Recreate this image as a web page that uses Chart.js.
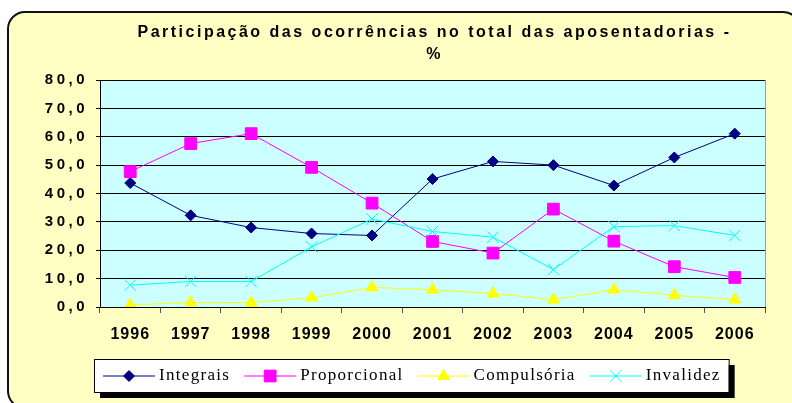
<!DOCTYPE html>
<html>
<head>
<meta charset="utf-8">
<script src="https://cdn.jsdelivr.net/npm/chart.js"></script>
<style>
  body { margin: 0; background: #fff; }
  #wrap { position: relative; width: 792px; height: 403px; overflow: hidden; }
  #panel {
    position: absolute; left: 7px; top: 11px; width: 790px; height: 394px;
    background: #FFFFC4; border: 2px solid #111; border-radius: 18px;
  }
  #chart { position: absolute; left: 0; top: 0; }
</style>
</head>
<body>
<div id="wrap">
  <div id="panel"></div>
  <canvas id="chart" width="792" height="403"></canvas>
</div>
<script>
// Data
const years = ['1996', '1997', '1998', '1999', '2000', '2001', '2002', '2003', '2004', '2005', '2006'];
const integrais = [43.7, 32.3, 28.0, 25.9, 25.2, 45.1, 51.3, 50.0, 42.8, 52.7, 61.1];
const proporcional = [47.7, 57.6, 61.1, 49.2, 36.6, 23.1, 19.0, 34.5, 23.2, 14.2, 10.4];
const compulsoria = [0.7, 1.6, 1.5, 3.3, 6.9, 6.1, 4.7, 2.6, 6.1, 4.1, 2.6];
const invalidez = [7.7, 9.0, 9.0, 21.2, 31.0, 26.6, 24.6, 13.2, 28.3, 28.7, 25.2];
const titleLines = ['Participação das ocorrências no total das aposentadorias -', '%'];

// Scales whose tick labels get letter spacing (the Excel look)
function spaced(Base, id) {
    class S extends Base {
        drawLabels(area) {
            const ctx = this.ctx;
            ctx.save();
            ctx.letterSpacing = this.options.ticks.spacing || '0px';
            super.drawLabels(area);
            ctx.restore();
        }
    }
    S.id = id;
    S.defaults = Base.defaults;
    return S;
}
Chart.register(spaced(Chart.LinearScale, 'spacedLinear'), spaced(Chart.CategoryScale, 'spacedCategory'));

// Plot background, title and the boxed legend
const decor = {
    id: 'decor',
    beforeDraw(chart) {
        const ctx = chart.ctx;
        const a = chart.chartArea;
        ctx.save();
        ctx.fillStyle = '#CCFFFF';
        ctx.fillRect(a.left, a.top, a.right - a.left, a.bottom - a.top);
        ctx.restore();
    },
    beforeDatasetsDraw(chart) {
        const ctx = chart.ctx;
        const a = chart.chartArea;
        ctx.save();
        ctx.strokeStyle = '#9a9a9a';
        ctx.lineWidth = 1;
        ctx.beginPath();
        ctx.moveTo(a.right + 0.5, a.top);
        ctx.lineTo(a.right + 0.5, a.bottom);
        ctx.stroke();
        ctx.restore();
    },
    afterDraw(chart) {
        const ctx = chart.ctx;
        const a = chart.chartArea;
        ctx.save();

        // title
        ctx.fillStyle = '#000';
        ctx.font = 'bold 16px "Liberation Sans", Arial, sans-serif';
        ctx.letterSpacing = '2.5px';
        ctx.textAlign = 'center';
        ctx.textBaseline = 'middle';
        const cx = (a.left + a.right) / 2 + 2;
        ctx.fillText(titleLines[0], cx, 33);
        ctx.fillText(titleLines[1], cx, 55);

        // legend
        ctx.font = '17px "Liberation Serif", "Times New Roman", serif';
        ctx.letterSpacing = '1.3px';
        ctx.textAlign = 'left';
        const boxX = 94, boxY = 359, boxH = 33;
        const lineLen = 52;
        const gap = 14;
        let x = boxX + 9;
        const items = chart.data.datasets.map(function(ds) {
            const w = ctx.measureText(ds.label).width;
            const it = { ds: ds, x: x, w: w };
            x += lineLen + 4 + w + gap;
            return it;
        });
        const boxW = x - gap + 8 - boxX;

        ctx.fillStyle = '#000';
        ctx.fillRect(boxX + 6, boxY + 6, boxW, boxH);
        ctx.fillStyle = '#fff';
        ctx.fillRect(boxX, boxY, boxW, boxH);
        ctx.strokeStyle = '#000';
        ctx.lineWidth = 1;
        ctx.strokeRect(boxX + 0.5, boxY + 0.5, boxW, boxH);

        const my = boxY + boxH / 2 + 0.5;
        items.forEach(function(it) {
            const ds = it.ds;
            ctx.strokeStyle = ds.borderColor;
            ctx.lineWidth = 1;
            ctx.beginPath();
            ctx.moveTo(it.x, my);
            ctx.lineTo(it.x + lineLen, my);
            ctx.stroke();
            ctx.fillStyle = ds.backgroundColor;
            Chart.helpers.drawPoint(ctx, {
                pointStyle: ds.pointStyle,
                radius: ds.pointRadius,
                rotation: 0,
                borderWidth: 1
            }, it.x + lineLen / 2, my);
            ctx.fillStyle = '#000';
            ctx.textBaseline = 'middle';
            ctx.fillText(ds.label, it.x + lineLen + 4, my);
        });
        ctx.restore();
    }
};

function series(label, data, color, style, radius, order) {
    return {
        label: label,
        data: data,
        borderColor: color,
        backgroundColor: color,
        pointBackgroundColor: color,
        pointBorderColor: color,
        pointStyle: style,
        pointRadius: radius,
        pointHoverRadius: radius,
        pointBorderWidth: 1,
        borderWidth: 1,
        tension: 0,
        fill: false,
        order: order
    };
}

new Chart(document.getElementById('chart'), {
    type: 'line',
    data: {
        labels: years,
        datasets: [
            series('Integrais', integrais, '#000080', 'rectRot', 5.5, 3),
            series('Proporcional', proporcional, '#FF00FF', 'rect', 8.3, 2),
            series('Compulsória', compulsoria, '#FFFF00', 'triangle', 6.8, 1),
            series('Invalidez', invalidez, '#00FFFF', 'crossRot', 8, 0)
        ]
    },
    options: {
        responsive: false,
        animation: false,
        devicePixelRatio: 1,
        layout: { padding: { left: 0, right: 27, top: 80, bottom: 56 } },
        plugins: {
            legend: { display: false },
            title: { display: false },
            tooltip: { enabled: false }
        },
        scales: {
            x: {
                type: 'spacedCategory',
                offset: true,
                grid: {
                    offset: true,
                    drawOnChartArea: false,
                    drawTicks: true,
                    tickLength: 6,
                    color: '#555'
                },
                border: { color: '#000', width: 1 },
                ticks: {
                    spacing: '1px',
                    color: '#000',
                    padding: 12,
                    maxRotation: 0,
                    autoSkip: false,
                    font: { family: '"Liberation Sans", Arial, sans-serif', size: 16, weight: 'bold' }
                },
                afterFit: function(s) { s.height = 40; }
            },
            y: {
                type: 'spacedLinear',
                min: 0,
                max: 80,
                grid: { color: '#000', lineWidth: 1, tickLength: 4 },
                border: { color: '#000', width: 1 },
                ticks: {
                    stepSize: 10,
                    spacing: '3.5px',
                    color: '#000',
                    padding: 8,
                    font: { family: '"Liberation Sans", Arial, sans-serif', size: 15, weight: 'bold' },
                    callback: function(v) { return v.toFixed(1).replace('.', ','); }
                },
                afterFit: function(s) { s.width = 100; }
            }
        }
    },
    plugins: [decor]
});
</script>
</body>
</html>
